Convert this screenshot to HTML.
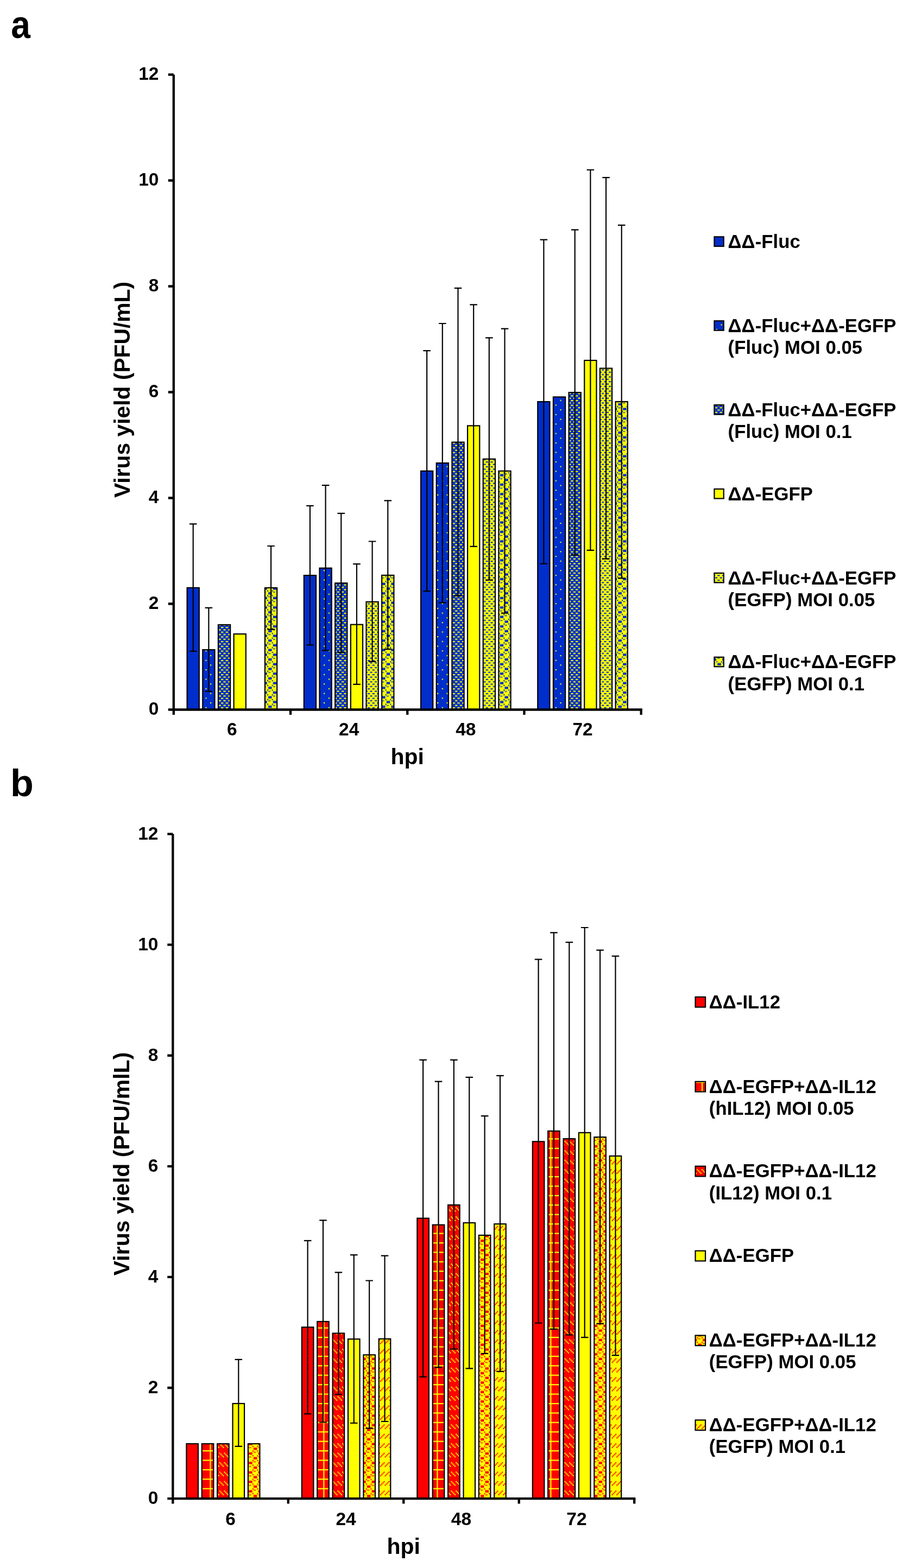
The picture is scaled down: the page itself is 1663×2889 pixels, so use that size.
<!DOCTYPE html>
<html><head><meta charset="utf-8"><title>Virus yield</title>
<style>html,body{margin:0;padding:0;background:#fff;overflow:hidden;width:1663px;height:2889px;}svg{display:block;}</style></head>
<body><svg width="1663" height="2889" viewBox="0 0 1663 2889">
<defs><pattern id="pa2" patternUnits="userSpaceOnUse" x="1.8" y="2.4" width="8" height="8" patternTransform="scale(2.177)"><rect width="8" height="8" fill="#002ecb"/><path d="M0 0h1v1h-1zM4 4h1v1h-1z" fill="#ffff00"/></pattern><pattern id="pa3" patternUnits="userSpaceOnUse" x="2.95" y="2.55" width="4" height="4" patternTransform="scale(2.177)"><rect width="4" height="4" fill="#002ecb"/><path d="M0 0h2v1h-2zM2 2h2v1h-2z" fill="#ffff00"/></pattern><pattern id="pa5" patternUnits="userSpaceOnUse" x="2.95" y="2.55" width="4" height="4" patternTransform="scale(2.177)"><rect width="4" height="4" fill="#ffff00"/><path d="M0 0h2v1h-2zM2 2h2v1h-2z" fill="#002ecb"/></pattern><pattern id="pb3" patternUnits="userSpaceOnUse" x="1.44" y="5.47" width="8" height="8" patternTransform="scale(2.177)"><rect width="8" height="8" fill="#ff0000"/><path d="M0 0h1v1h-1zM4 0h1v1h-1zM1 1h1v1h-1zM5 1h1v1h-1zM2 2h1v1h-1zM6 2h1v1h-1zM3 3h1v1h-1zM7 3h1v1h-1z" fill="#ffff00"/></pattern><pattern id="pb6" patternUnits="userSpaceOnUse" x="1.46" y="5.52" width="8" height="8" patternTransform="scale(2.177)"><rect width="8" height="8" fill="#ffff00"/><path d="M3 0h1v1h-1zM7 0h1v1h-1zM2 1h1v1h-1zM6 1h1v1h-1zM1 2h1v1h-1zM5 2h1v1h-1zM0 3h1v1h-1zM4 3h1v1h-1z" fill="#ff0000"/></pattern><pattern id="pa6" patternUnits="userSpaceOnUse" x="1.94" y="3.6" width="8" height="8" patternTransform="scale(2.177)"><rect width="8" height="8" fill="#ffff00"/><path d="M0 0h1v1h-1zM4 0h1v1h-1zM0 4h1v1h-1zM4 4h1v1h-1zM1 1.5h3v2h-3zM5 5.5h3v2h-3zM5 1.2h2v0.7h-2zM1 5.2h2v0.7h-2z" fill="#002ecb"/></pattern><pattern id="pb5" patternUnits="userSpaceOnUse" x="1.47" y="3.6" width="8" height="8" patternTransform="scale(2.177)"><rect width="8" height="8" fill="#ffff00"/><path d="M0 0h1v1h-1zM4 0h1v1h-1zM0 4h1v1h-1zM4 4h1v1h-1zM1 1.5h3v2h-3zM5 5.5h3v2h-3zM5 1.2h2v0.7h-2zM1 5.2h2v0.7h-2z" fill="#ff0000"/></pattern><pattern id="pb2" patternUnits="userSpaceOnUse" x="1.47" y="3.4" width="8" height="8" patternTransform="scale(2.177)"><rect width="8" height="8" fill="#ff0000"/><path d="M0 0h8v1h-8zM0 1h1v7h-1z" fill="#ffff00"/></pattern></defs>
<rect width="1663" height="2889" fill="#fff"/>
<text transform="translate(20.2 70) scale(0.885 1)" font-size="72.4" font-family="'Liberation Sans', Arial, sans-serif" font-weight="bold">a</text><text x="19" y="1466.5" font-size="70" font-family="'Liberation Sans', Arial, sans-serif" font-weight="bold">b</text><rect x="344.58" y="1082.88" width="22.23" height="224.62" fill="#002ecb" stroke="#000" stroke-width="2.17"/><rect x="373.25" y="1197.09" width="22.23" height="110.42" fill="url(#pa2)" stroke="#000" stroke-width="2.17"/><rect x="401.93" y="1151.09" width="22.23" height="156.41" fill="url(#pa3)" stroke="#000" stroke-width="2.17"/><rect x="430.59" y="1168.09" width="22.23" height="139.41" fill="#ffff00" stroke="#000" stroke-width="2.17"/><rect x="487.94" y="1082.99" width="22.23" height="224.51" fill="url(#pa6)" stroke="#000" stroke-width="2.17"/><rect x="559.81" y="1060.09" width="22.23" height="247.41" fill="#002ecb" stroke="#000" stroke-width="2.17"/><rect x="588.48" y="1046.69" width="22.23" height="260.81" fill="url(#pa2)" stroke="#000" stroke-width="2.17"/><rect x="617.15" y="1074.29" width="22.23" height="233.21" fill="url(#pa3)" stroke="#000" stroke-width="2.17"/><rect x="645.82" y="1150.69" width="22.23" height="156.81" fill="#ffff00" stroke="#000" stroke-width="2.17"/><rect x="674.49" y="1108.88" width="22.23" height="198.62" fill="url(#pa5)" stroke="#000" stroke-width="2.17"/><rect x="703.16" y="1059.88" width="22.23" height="247.62" fill="url(#pa6)" stroke="#000" stroke-width="2.17"/><rect x="775.04" y="867.79" width="22.23" height="439.71" fill="#002ecb" stroke="#000" stroke-width="2.17"/><rect x="803.71" y="853.09" width="22.23" height="454.42" fill="url(#pa2)" stroke="#000" stroke-width="2.17"/><rect x="832.38" y="814.69" width="22.23" height="492.81" fill="url(#pa3)" stroke="#000" stroke-width="2.17"/><rect x="861.05" y="784.39" width="22.23" height="523.11" fill="#ffff00" stroke="#000" stroke-width="2.17"/><rect x="889.72" y="845.69" width="22.23" height="461.81" fill="url(#pa5)" stroke="#000" stroke-width="2.17"/><rect x="918.39" y="867.79" width="22.23" height="439.71" fill="url(#pa6)" stroke="#000" stroke-width="2.17"/><rect x="990.26" y="740.09" width="22.23" height="567.41" fill="#002ecb" stroke="#000" stroke-width="2.17"/><rect x="1018.93" y="731.39" width="22.23" height="576.11" fill="url(#pa2)" stroke="#000" stroke-width="2.17"/><rect x="1047.60" y="723.09" width="22.23" height="584.41" fill="url(#pa3)" stroke="#000" stroke-width="2.17"/><rect x="1076.27" y="663.99" width="22.23" height="643.51" fill="#ffff00" stroke="#000" stroke-width="2.17"/><rect x="1104.94" y="678.59" width="22.23" height="628.91" fill="url(#pa5)" stroke="#000" stroke-width="2.17"/><rect x="1133.61" y="739.99" width="22.23" height="567.51" fill="url(#pa6)" stroke="#000" stroke-width="2.17"/><path d="M355.70 965.30V1199.80M348.90 965.30h13.6M348.90 1199.80h13.6" stroke="#000" stroke-width="2.17" fill="none"/><path d="M384.37 1119.80V1273.90M377.57 1119.80h13.6M377.57 1273.90h13.6" stroke="#000" stroke-width="2.17" fill="none"/><path d="M499.05 1006.00V1159.60M492.25 1006.00h13.6M492.25 1159.60h13.6" stroke="#000" stroke-width="2.17" fill="none"/><path d="M570.93 931.90V1188.30M564.13 931.90h13.6M564.13 1188.30h13.6" stroke="#000" stroke-width="2.17" fill="none"/><path d="M599.60 894.10V1198.30M592.80 894.10h13.6M592.80 1198.30h13.6" stroke="#000" stroke-width="2.17" fill="none"/><path d="M628.27 945.80V1202.20M621.47 945.80h13.6M621.47 1202.20h13.6" stroke="#000" stroke-width="2.17" fill="none"/><path d="M656.94 1039.10V1260.90M650.14 1039.10h13.6M650.14 1260.90h13.6" stroke="#000" stroke-width="2.17" fill="none"/><path d="M685.61 997.50V1218.90M678.81 997.50h13.6M678.81 1218.90h13.6" stroke="#000" stroke-width="2.17" fill="none"/><path d="M714.28 922.30V1196.20M707.48 922.30h13.6M707.48 1196.20h13.6" stroke="#000" stroke-width="2.17" fill="none"/><path d="M786.15 646.20V1089.10M779.35 646.20h13.6M779.35 1089.10h13.6" stroke="#000" stroke-width="2.17" fill="none"/><path d="M814.82 596.00V1110.30M808.02 596.00h13.6M808.02 1110.30h13.6" stroke="#000" stroke-width="2.17" fill="none"/><path d="M843.49 530.90V1097.60M836.69 530.90h13.6M836.69 1097.60h13.6" stroke="#000" stroke-width="2.17" fill="none"/><path d="M872.16 561.40V1006.90M865.36 561.40h13.6M865.36 1006.90h13.6" stroke="#000" stroke-width="2.17" fill="none"/><path d="M900.83 622.30V1068.60M894.03 622.30h13.6M894.03 1068.60h13.6" stroke="#000" stroke-width="2.17" fill="none"/><path d="M929.50 605.70V1129.60M922.70 605.70h13.6M922.70 1129.60h13.6" stroke="#000" stroke-width="2.17" fill="none"/><path d="M1001.38 441.70V1038.70M994.58 441.70h13.6M994.58 1038.70h13.6" stroke="#000" stroke-width="2.17" fill="none"/><path d="M1058.72 423.30V1022.60M1051.92 423.30h13.6M1051.92 1022.60h13.6" stroke="#000" stroke-width="2.17" fill="none"/><path d="M1087.39 313.00V1013.90M1080.59 313.00h13.6M1080.59 1013.90h13.6" stroke="#000" stroke-width="2.17" fill="none"/><path d="M1116.06 327.20V1029.60M1109.26 327.20h13.6M1109.26 1029.60h13.6" stroke="#000" stroke-width="2.17" fill="none"/><path d="M1144.73 414.80V1065.30M1137.93 414.80h13.6M1137.93 1065.30h13.6" stroke="#000" stroke-width="2.17" fill="none"/><path d="M319.8 137.5V1317.0M317.65000000000003 1307.5H1182.8500000000001" stroke="#000" stroke-width="4.3" fill="none"/><path d="M309.80 1307.50H319.8M309.80 1112.50H319.8M309.80 917.50H319.8M309.80 722.50H319.8M309.80 527.50H319.8M309.80 332.50H319.8M309.80 137.50H319.8" stroke="#000" stroke-width="4.3" fill="none"/><path d="M535.03 1307.5V1317.0M750.25 1307.5V1317.0M965.48 1307.5V1317.0M1180.70 1307.5V1317.0" stroke="#000" stroke-width="4.3" fill="none"/><text x="292.5" y="1316.50" text-anchor="end" font-size="33.5" font-family="'Liberation Sans', Arial, sans-serif" font-weight="bold">0</text><text x="292.5" y="1121.50" text-anchor="end" font-size="33.5" font-family="'Liberation Sans', Arial, sans-serif" font-weight="bold">2</text><text x="292.5" y="926.50" text-anchor="end" font-size="33.5" font-family="'Liberation Sans', Arial, sans-serif" font-weight="bold">4</text><text x="292.5" y="731.50" text-anchor="end" font-size="33.5" font-family="'Liberation Sans', Arial, sans-serif" font-weight="bold">6</text><text x="292.5" y="536.50" text-anchor="end" font-size="33.5" font-family="'Liberation Sans', Arial, sans-serif" font-weight="bold">8</text><text x="292.5" y="341.50" text-anchor="end" font-size="33.5" font-family="'Liberation Sans', Arial, sans-serif" font-weight="bold">10</text><text x="292.5" y="146.50" text-anchor="end" font-size="33.5" font-family="'Liberation Sans', Arial, sans-serif" font-weight="bold">12</text><text x="427.41" y="1354.5" text-anchor="middle" font-size="33.5" font-family="'Liberation Sans', Arial, sans-serif" font-weight="bold">6</text><text x="642.64" y="1354.5" text-anchor="middle" font-size="33.5" font-family="'Liberation Sans', Arial, sans-serif" font-weight="bold">24</text><text x="857.86" y="1354.5" text-anchor="middle" font-size="33.5" font-family="'Liberation Sans', Arial, sans-serif" font-weight="bold">48</text><text x="1073.09" y="1354.5" text-anchor="middle" font-size="33.5" font-family="'Liberation Sans', Arial, sans-serif" font-weight="bold">72</text><text x="750.25" y="1407.6" text-anchor="middle" font-size="41" font-family="'Liberation Sans', Arial, sans-serif" font-weight="bold">hpi</text><text transform="translate(238.6 718.0) rotate(-90)" text-anchor="middle" font-size="40.8" font-family="'Liberation Sans', Arial, sans-serif" font-weight="bold">Virus yield (PFU/mL)</text><rect x="1315.50" y="436.30" width="17.30" height="17.50" fill="#002ecb" stroke="#000" stroke-width="2.2"/><text transform="translate(1340.6 456.90) scale(1.018 1)" font-size="34.2" font-family="'Liberation Sans', Arial, sans-serif" font-weight="bold">ΔΔ-Fluc</text><rect x="1315.50" y="591.20" width="17.30" height="17.50" fill="url(#pa2)" stroke="#000" stroke-width="2.2"/><text transform="translate(1340.6 611.80) scale(1.018 1)" font-size="34.2" font-family="'Liberation Sans', Arial, sans-serif" font-weight="bold">ΔΔ-Fluc+ΔΔ-EGFP</text><text transform="translate(1340.6 652.40) scale(1.018 1)" font-size="34.2" font-family="'Liberation Sans', Arial, sans-serif" font-weight="bold">(Fluc) MOI 0.05</text><rect x="1315.50" y="746.10" width="17.30" height="17.50" fill="url(#pa3)" stroke="#000" stroke-width="2.2"/><text transform="translate(1340.6 766.70) scale(1.018 1)" font-size="34.2" font-family="'Liberation Sans', Arial, sans-serif" font-weight="bold">ΔΔ-Fluc+ΔΔ-EGFP</text><text transform="translate(1340.6 807.30) scale(1.018 1)" font-size="34.2" font-family="'Liberation Sans', Arial, sans-serif" font-weight="bold">(Fluc) MOI 0.1</text><rect x="1315.50" y="901.00" width="17.30" height="17.50" fill="#ffff00" stroke="#000" stroke-width="2.2"/><text transform="translate(1340.6 921.60) scale(1.018 1)" font-size="34.2" font-family="'Liberation Sans', Arial, sans-serif" font-weight="bold">ΔΔ-EGFP</text><rect x="1315.50" y="1055.90" width="17.30" height="17.50" fill="url(#pa5)" stroke="#000" stroke-width="2.2"/><text transform="translate(1340.6 1076.50) scale(1.018 1)" font-size="34.2" font-family="'Liberation Sans', Arial, sans-serif" font-weight="bold">ΔΔ-Fluc+ΔΔ-EGFP</text><text transform="translate(1340.6 1117.10) scale(1.018 1)" font-size="34.2" font-family="'Liberation Sans', Arial, sans-serif" font-weight="bold">(EGFP) MOI 0.05</text><rect x="1315.50" y="1210.80" width="17.30" height="17.50" fill="url(#pa6)" stroke="#000" stroke-width="2.2"/><text transform="translate(1340.6 1231.40) scale(1.018 1)" font-size="34.2" font-family="'Liberation Sans', Arial, sans-serif" font-weight="bold">ΔΔ-Fluc+ΔΔ-EGFP</text><text transform="translate(1340.6 1272.00) scale(1.018 1)" font-size="34.2" font-family="'Liberation Sans', Arial, sans-serif" font-weight="bold">(EGFP) MOI 0.1</text><rect x="343.38" y="2660.09" width="21.53" height="101.01" fill="#ff0000" stroke="#000" stroke-width="2.17"/><rect x="371.76" y="2660.09" width="21.53" height="101.01" fill="url(#pb2)" stroke="#000" stroke-width="2.17"/><rect x="400.14" y="2660.09" width="21.53" height="101.01" fill="url(#pb3)" stroke="#000" stroke-width="2.17"/><rect x="428.52" y="2585.98" width="21.53" height="175.12" fill="#ffff00" stroke="#000" stroke-width="2.17"/><rect x="456.90" y="2660.09" width="21.53" height="101.01" fill="url(#pb5)" stroke="#000" stroke-width="2.17"/><rect x="555.86" y="2445.28" width="21.53" height="315.82" fill="#ff0000" stroke="#000" stroke-width="2.17"/><rect x="584.24" y="2434.88" width="21.53" height="326.22" fill="url(#pb2)" stroke="#000" stroke-width="2.17"/><rect x="612.62" y="2456.48" width="21.53" height="304.62" fill="url(#pb3)" stroke="#000" stroke-width="2.17"/><rect x="641.00" y="2467.18" width="21.53" height="293.92" fill="#ffff00" stroke="#000" stroke-width="2.17"/><rect x="669.38" y="2496.28" width="21.53" height="264.82" fill="url(#pb5)" stroke="#000" stroke-width="2.17"/><rect x="697.76" y="2466.78" width="21.53" height="294.32" fill="url(#pb6)" stroke="#000" stroke-width="2.17"/><rect x="768.34" y="2244.59" width="21.53" height="516.51" fill="#ff0000" stroke="#000" stroke-width="2.17"/><rect x="796.72" y="2256.68" width="21.53" height="504.42" fill="url(#pb2)" stroke="#000" stroke-width="2.17"/><rect x="825.10" y="2220.09" width="21.53" height="541.01" fill="url(#pb3)" stroke="#000" stroke-width="2.17"/><rect x="853.48" y="2252.98" width="21.53" height="508.12" fill="#ffff00" stroke="#000" stroke-width="2.17"/><rect x="881.86" y="2275.88" width="21.53" height="485.22" fill="url(#pb5)" stroke="#000" stroke-width="2.17"/><rect x="910.24" y="2255.09" width="21.53" height="506.01" fill="url(#pb6)" stroke="#000" stroke-width="2.17"/><rect x="980.81" y="2103.28" width="21.53" height="657.82" fill="#ff0000" stroke="#000" stroke-width="2.17"/><rect x="1009.19" y="2083.88" width="21.53" height="677.22" fill="url(#pb2)" stroke="#000" stroke-width="2.17"/><rect x="1037.57" y="2098.09" width="21.53" height="663.01" fill="url(#pb3)" stroke="#000" stroke-width="2.17"/><rect x="1065.95" y="2086.88" width="21.53" height="674.22" fill="#ffff00" stroke="#000" stroke-width="2.17"/><rect x="1094.33" y="2095.09" width="21.53" height="666.01" fill="url(#pb5)" stroke="#000" stroke-width="2.17"/><rect x="1122.71" y="2129.88" width="21.53" height="631.22" fill="url(#pb6)" stroke="#000" stroke-width="2.17"/><path d="M439.29 2504.80V2664.90M432.49 2504.80h13.6M432.49 2664.90h13.6" stroke="#000" stroke-width="2.17" fill="none"/><path d="M566.63 2285.80V2605.10M559.83 2285.80h13.6M559.83 2605.10h13.6" stroke="#000" stroke-width="2.17" fill="none"/><path d="M595.01 2248.30V2620.50M588.21 2248.30h13.6M588.21 2620.50h13.6" stroke="#000" stroke-width="2.17" fill="none"/><path d="M623.39 2344.40V2569.10M616.59 2344.40h13.6M616.59 2569.10h13.6" stroke="#000" stroke-width="2.17" fill="none"/><path d="M651.77 2312.10V2622.00M644.97 2312.10h13.6M644.97 2622.00h13.6" stroke="#000" stroke-width="2.17" fill="none"/><path d="M680.15 2359.50V2631.70M673.35 2359.50h13.6M673.35 2631.70h13.6" stroke="#000" stroke-width="2.17" fill="none"/><path d="M708.53 2313.60V2619.00M701.73 2313.60h13.6M701.73 2619.00h13.6" stroke="#000" stroke-width="2.17" fill="none"/><path d="M779.10 1952.90V2536.80M772.30 1952.90h13.6M772.30 2536.80h13.6" stroke="#000" stroke-width="2.17" fill="none"/><path d="M807.48 1992.60V2519.30M800.68 1992.60h13.6M800.68 2519.30h13.6" stroke="#000" stroke-width="2.17" fill="none"/><path d="M835.86 1952.90V2485.60M829.06 1952.90h13.6M829.06 2485.60h13.6" stroke="#000" stroke-width="2.17" fill="none"/><path d="M864.24 1984.80V2521.40M857.44 1984.80h13.6M857.44 2521.40h13.6" stroke="#000" stroke-width="2.17" fill="none"/><path d="M892.62 2056.10V2494.00M885.82 2056.10h13.6M885.82 2494.00h13.6" stroke="#000" stroke-width="2.17" fill="none"/><path d="M921.00 1981.80V2526.80M914.20 1981.80h13.6M914.20 2526.80h13.6" stroke="#000" stroke-width="2.17" fill="none"/><path d="M991.58 1767.60V2437.60M984.78 1767.60h13.6M984.78 2437.60h13.6" stroke="#000" stroke-width="2.17" fill="none"/><path d="M1019.96 1718.40V2448.80M1013.16 1718.40h13.6M1013.16 2448.80h13.6" stroke="#000" stroke-width="2.17" fill="none"/><path d="M1048.34 1736.20V2459.60M1041.54 1736.20h13.6M1041.54 2459.60h13.6" stroke="#000" stroke-width="2.17" fill="none"/><path d="M1076.72 1709.00V2464.20M1069.92 1709.00h13.6M1069.92 2464.20h13.6" stroke="#000" stroke-width="2.17" fill="none"/><path d="M1105.10 1750.70V2438.80M1098.30 1750.70h13.6M1098.30 2438.80h13.6" stroke="#000" stroke-width="2.17" fill="none"/><path d="M1133.48 1761.60V2497.10M1126.68 1761.60h13.6M1126.68 2497.10h13.6" stroke="#000" stroke-width="2.17" fill="none"/><path d="M318.3 1536.6V2770.6M316.15000000000003 2761.1H1170.3500000000001" stroke="#000" stroke-width="4.3" fill="none"/><path d="M308.30 2761.10H318.3M308.30 2557.02H318.3M308.30 2352.93H318.3M308.30 2148.85H318.3M308.30 1944.77H318.3M308.30 1740.68H318.3M308.30 1536.60H318.3" stroke="#000" stroke-width="4.3" fill="none"/><path d="M530.78 2761.1V2770.6M743.25 2761.1V2770.6M955.73 2761.1V2770.6M1168.20 2761.1V2770.6" stroke="#000" stroke-width="4.3" fill="none"/><text x="291.5" y="2771.10" text-anchor="end" font-size="33.5" font-family="'Liberation Sans', Arial, sans-serif" font-weight="bold">0</text><text x="291.5" y="2567.02" text-anchor="end" font-size="33.5" font-family="'Liberation Sans', Arial, sans-serif" font-weight="bold">2</text><text x="291.5" y="2362.93" text-anchor="end" font-size="33.5" font-family="'Liberation Sans', Arial, sans-serif" font-weight="bold">4</text><text x="291.5" y="2158.85" text-anchor="end" font-size="33.5" font-family="'Liberation Sans', Arial, sans-serif" font-weight="bold">6</text><text x="291.5" y="1954.77" text-anchor="end" font-size="33.5" font-family="'Liberation Sans', Arial, sans-serif" font-weight="bold">8</text><text x="291.5" y="1750.68" text-anchor="end" font-size="33.5" font-family="'Liberation Sans', Arial, sans-serif" font-weight="bold">10</text><text x="291.5" y="1546.60" text-anchor="end" font-size="33.5" font-family="'Liberation Sans', Arial, sans-serif" font-weight="bold">12</text><text x="424.54" y="2810.3" text-anchor="middle" font-size="33.5" font-family="'Liberation Sans', Arial, sans-serif" font-weight="bold">6</text><text x="637.01" y="2810.3" text-anchor="middle" font-size="33.5" font-family="'Liberation Sans', Arial, sans-serif" font-weight="bold">24</text><text x="849.49" y="2810.3" text-anchor="middle" font-size="33.5" font-family="'Liberation Sans', Arial, sans-serif" font-weight="bold">48</text><text x="1061.96" y="2810.3" text-anchor="middle" font-size="33.5" font-family="'Liberation Sans', Arial, sans-serif" font-weight="bold">72</text><text x="743.25" y="2862.7" text-anchor="middle" font-size="41" font-family="'Liberation Sans', Arial, sans-serif" font-weight="bold">hpi</text><text transform="translate(238.4 2144.5) rotate(-90)" text-anchor="middle" font-size="41.0" font-family="'Liberation Sans', Arial, sans-serif" font-weight="bold">Virus yield (PFU/mlL)</text><rect x="1280.60" y="1836.90" width="18.50" height="18.70" fill="#ff0000" stroke="#000" stroke-width="2.2"/><text transform="translate(1305.8 1857.60) scale(1.018 1)" font-size="34.2" font-family="'Liberation Sans', Arial, sans-serif" font-weight="bold">ΔΔ-IL12</text><rect x="1280.60" y="1992.80" width="18.50" height="18.70" fill="url(#pb2)" stroke="#000" stroke-width="2.2"/><text transform="translate(1305.8 2013.50) scale(1.018 1)" font-size="34.2" font-family="'Liberation Sans', Arial, sans-serif" font-weight="bold">ΔΔ-EGFP+ΔΔ-IL12</text><text transform="translate(1305.8 2053.60) scale(1.018 1)" font-size="34.2" font-family="'Liberation Sans', Arial, sans-serif" font-weight="bold">(hIL12) MOI 0.05</text><rect x="1280.60" y="2148.70" width="18.50" height="18.70" fill="url(#pb3)" stroke="#000" stroke-width="2.2"/><text transform="translate(1305.8 2169.40) scale(1.018 1)" font-size="34.2" font-family="'Liberation Sans', Arial, sans-serif" font-weight="bold">ΔΔ-EGFP+ΔΔ-IL12</text><text transform="translate(1305.8 2209.50) scale(1.018 1)" font-size="34.2" font-family="'Liberation Sans', Arial, sans-serif" font-weight="bold">(IL12) MOI 0.1</text><rect x="1280.60" y="2304.60" width="18.50" height="18.70" fill="#ffff00" stroke="#000" stroke-width="2.2"/><text transform="translate(1305.8 2325.30) scale(1.018 1)" font-size="34.2" font-family="'Liberation Sans', Arial, sans-serif" font-weight="bold">ΔΔ-EGFP</text><rect x="1280.60" y="2460.50" width="18.50" height="18.70" fill="url(#pb5)" stroke="#000" stroke-width="2.2"/><text transform="translate(1305.8 2481.20) scale(1.018 1)" font-size="34.2" font-family="'Liberation Sans', Arial, sans-serif" font-weight="bold">ΔΔ-EGFP+ΔΔ-IL12</text><text transform="translate(1305.8 2521.30) scale(1.018 1)" font-size="34.2" font-family="'Liberation Sans', Arial, sans-serif" font-weight="bold">(EGFP) MOI 0.05</text><rect x="1280.60" y="2616.40" width="18.50" height="18.70" fill="url(#pb6)" stroke="#000" stroke-width="2.2"/><text transform="translate(1305.8 2637.10) scale(1.018 1)" font-size="34.2" font-family="'Liberation Sans', Arial, sans-serif" font-weight="bold">ΔΔ-EGFP+ΔΔ-IL12</text><text transform="translate(1305.8 2677.20) scale(1.018 1)" font-size="34.2" font-family="'Liberation Sans', Arial, sans-serif" font-weight="bold">(EGFP) MOI 0.1</text>
</svg></body></html>
